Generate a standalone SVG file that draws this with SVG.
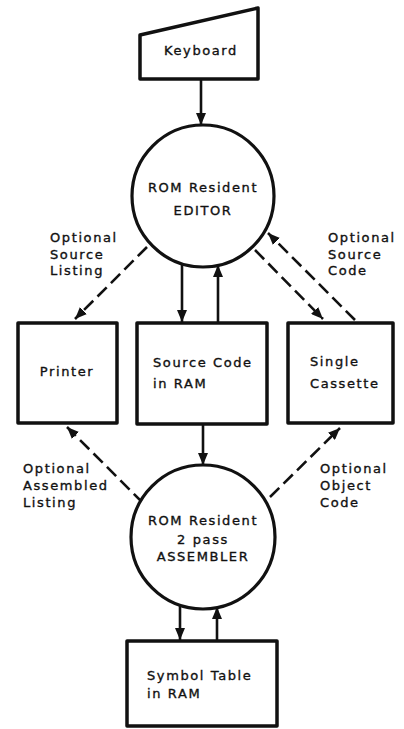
<svg xmlns="http://www.w3.org/2000/svg" width="404" height="729" viewBox="0 0 404 729">
<style>
.t{font-family:"DejaVu Sans","Liberation Sans",sans-serif;font-size:13px;letter-spacing:1.6px;fill:#111;stroke:#111;stroke-width:0.35}
.node{fill:#fff;stroke:#111;stroke-width:3.5;stroke-linejoin:round}
.circ{fill:#fff;stroke:#111;stroke-width:3.2}
.c{stroke:#111;stroke-width:2.6;fill:none}
.d{stroke-dasharray:13 6}
</style>
<defs>
<marker id="ah" viewBox="0 0 12 10" refX="12" refY="5" markerWidth="12" markerHeight="10" markerUnits="userSpaceOnUse" orient="auto">
<path d="M0,0 L12,5 L0,10 Z" fill="#111"/>
</marker>
</defs>
<rect width="404" height="729" fill="#fff"/>
<g id="connectors">
<line class="c" x1="201" y1="79" x2="201" y2="125" marker-end="url(#ah)"/>
<line class="c" x1="182" y1="265" x2="182" y2="322" marker-end="url(#ah)"/>
<line class="c" x1="218" y1="322" x2="218" y2="265" marker-end="url(#ah)"/>
<line class="c d" x1="147" y1="247" x2="75" y2="319" marker-end="url(#ah)"/>
<line class="c d" x1="255" y1="250" x2="323" y2="319" marker-end="url(#ah)"/>
<line class="c d" x1="355" y1="320" x2="268" y2="233" marker-end="url(#ah)"/>
<line class="c" x1="203" y1="424" x2="203" y2="465" marker-end="url(#ah)"/>
<line class="c d" x1="143" y1="503" x2="67" y2="427" marker-end="url(#ah)"/>
<line class="c d" x1="270" y1="497" x2="340" y2="428" marker-end="url(#ah)"/>
<line class="c" x1="180" y1="605" x2="180" y2="640" marker-end="url(#ah)"/>
<line class="c" x1="217" y1="640" x2="217" y2="607" marker-end="url(#ah)"/>
</g>
<g id="keyboard">
<path class="node" d="M140,35 L258,8 L258,79 L140,79 Z"/>
<text class="t" x="201" y="55" text-anchor="middle">Keyboard</text>
</g>
<g id="editor">
<circle class="circ" cx="203" cy="196" r="71"/>
<text class="t" x="203" y="192" text-anchor="middle">ROM Resident</text>
<text class="t" x="203" y="215" text-anchor="middle">EDITOR</text>
</g>
<g id="printer">
<rect class="node" x="18" y="323" width="99" height="100"/>
<text class="t" x="67" y="376" text-anchor="middle">Printer</text>
</g>
<g id="source">
<rect class="node" x="137" y="323" width="130" height="101"/>
<text class="t" x="153" y="367">Source Code</text>
<text class="t" x="153" y="388">in RAM</text>
</g>
<g id="cassette">
<rect class="node" x="288" y="323" width="105" height="100"/>
<text class="t" x="310" y="366">Single</text>
<text class="t" x="310" y="388">Cassette</text>
</g>
<g id="assembler">
<circle class="circ" cx="203" cy="537" r="72"/>
<text class="t" x="203" y="525" text-anchor="middle">ROM Resident</text>
<text class="t" x="203" y="544" text-anchor="middle">2 pass</text>
<text class="t" x="203" y="561" text-anchor="middle">ASSEMBLER</text>
</g>
<g id="symtable">
<rect class="node" x="127" y="641" width="150" height="85"/>
<text class="t" x="147" y="680">Symbol Table</text>
<text class="t" x="147" y="698">in RAM</text>
</g>
<g id="labels">
<text class="t" x="50" y="242">Optional</text>
<text class="t" x="50" y="259">Source</text>
<text class="t" x="50" y="275">Listing</text>
<text class="t" x="328" y="242">Optional</text>
<text class="t" x="328" y="259">Source</text>
<text class="t" x="328" y="275">Code</text>
<text class="t" x="23" y="473">Optional</text>
<text class="t" x="23" y="490">Assembled</text>
<text class="t" x="23" y="507">Listing</text>
<text class="t" x="320" y="473">Optional</text>
<text class="t" x="320" y="490">Object</text>
<text class="t" x="320" y="507">Code</text>
</g>
</svg>
